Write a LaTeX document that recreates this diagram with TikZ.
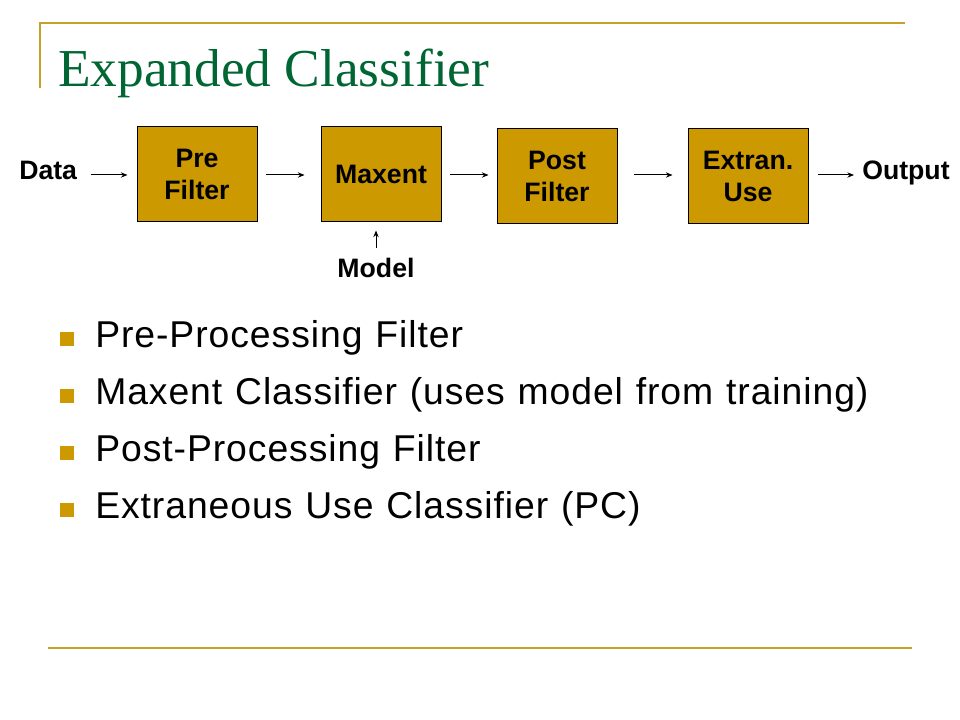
\documentclass[tikz,border=0pt]{standalone}
\usepackage{fontspec}
\setmainfont{Liberation Serif}
\setsansfont{Liberation Sans}
\usetikzlibrary{arrows.meta}
\definecolor{gold}{RGB}{204,153,0}
\definecolor{rulegold}{RGB}{200,160,40}
\definecolor{titlegreen}{RGB}{0,102,51}
\newcommand{\bulletfont}{\sffamily\fontsize{28}{32}\selectfont\addfontfeature{LetterSpace=2.5}\spaceskip=9.6pt plus 1pt\relax}
\tikzset{
  box/.style={draw=black, line width=0.75pt, fill=gold, minimum width=90pt, minimum height=71.25pt,
    inner sep=0pt, align=center, font=\sffamily\bfseries\fontsize{20}{24}\selectfont},
  lbl/.style={inner sep=0pt, anchor=base west, font=\sffamily\bfseries\fontsize{20}{24}\selectfont},
  flow/.style={-{Stealth[length=5pt,width=4pt]}, line width=0.75pt},
  bul/.style={fill=gold, minimum size=10.5pt, inner sep=0pt},
  btxt/.style={inner sep=0pt, anchor=base west, font=\bulletfont},
  rule/.style={draw=rulegold, line width=1.5pt}
}
\begin{document}
\begin{tikzpicture}[x=0.75pt,y=-0.75pt]
\useasboundingbox[fill=white] (0,0) rectangle (960,720);
% decorative rules
\draw[rule] (40,88) coordinate (v0) -- (40,23) coordinate (v1) -- (905,23) coordinate (v2);
\draw[rule] (48,648) coordinate (b0) -- (912,648) coordinate (b1);
% title
\node[inner sep=0pt, anchor=base west, text=titlegreen, font=\rmfamily\fontsize{40}{48}\selectfont] (title) at (58,87) {Expanded Classifier};
% boxes
\node[box] (pre) at (197,174.5) {Pre\\Filter};
\node[box] (max) at (381,174.5) {Maxent};
\node[box] (post) at (557,176) {Post\\Filter};
\node[box] (ext) at (748,176) {Extran.\\Use};
% labels
\node[lbl] (data) at (19,180) {Data};
\node[lbl] (out) at (862,180) {Output};
\node[lbl, anchor=base] (model) at (376,277) {Model};
% connectors
\draw[flow, shorten <=10pt, shorten >=6.75pt] (data.east |- 0,175) -- (pre.west |- 0,175);
\draw[flow, shorten <=6pt, shorten >=12pt] (pre.east |- 0,175) -- (max.west |- 0,175);
\draw[flow, shorten <=6pt, shorten >=6pt] (max.east |- 0,175) -- (post.west |- 0,175);
\draw[flow, shorten <=12pt, shorten >=11.25pt] (post.east |- 0,175) -- (ext.west |- 0,175);
\draw[flow, shorten <=6.75pt, shorten >=6pt] (ext.east |- 0,175) -- (out.west |- 0,175);
\draw[flow, shorten <=7pt, shorten >=6pt] (model.north) -- (model.north |- max.south);
% bullets
\node[bul] (s1) at (67,339) {};
\node[bul] (s2) at (67,396) {};
\node[bul] (s3) at (67,453) {};
\node[bul] (s4) at (67,510) {};
\node[btxt] (t1) at (95,347) {Pre-Processing Filter};
\node[btxt] (t2) at (95,404) {Maxent Classifier (uses model from training)};
\node[btxt] (t3) at (95,461) {Post-Processing Filter};
\node[btxt] (t4) at (95,518) {Extraneous Use Classifier (PC)};
\end{tikzpicture}
\end{document}
